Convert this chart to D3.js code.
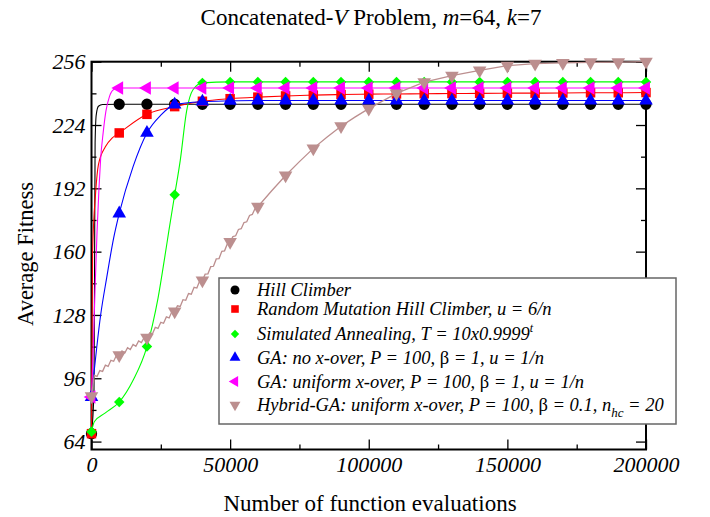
<!DOCTYPE html>
<html>
<head>
<meta charset="utf-8">
<script src="https://cdn.jsdelivr.net/npm/d3@7"></script>
<style>
body { margin: 0; background: #fff; }
text { font-family: "Liberation Serif", "Times New Roman", serif; }
</style>
</head>
<body>
<svg id="chart" width="710" height="517"></svg>
<script>
// evaluation counts where the markers sit
const evals = [0, 10000, 20000, 30000, 40000, 50000, 60000, 70000, 80000, 90000, 100000,
  110000, 120000, 130000, 140000, 150000, 160000, 170000, 180000, 190000, 200000];

// average fitness at those evaluations
const hcVals = [68, 234.5, 234.5, 234.5, 234.5, 234.5, 234.5, 234.5, 234.5, 234.5, 234.5,
  234.5, 234.5, 234.5, 234.5, 234.5, 234.5, 234.5, 234.5, 234.5, 234.5];
const rmhcVals = [68, 220, 229.4, 233.3, 236, 237.3, 238.1, 238.7, 239.1, 239.4, 239.6,
  239.7, 239.8, 239.9, 240, 240.1, 240.1, 240.2, 240.3, 240.3, 240.4];
const saVals = [69, 84, 112, 188.7, 245.3, 245.8, 245.8, 245.8, 245.8, 245.8, 245.8,
  245.8, 245.8, 245.8, 245.8, 245.8, 245.8, 245.8, 245.8, 245.8, 245.8];
const gaVals = [86.5, 179.3, 220, 234.3, 235.8, 236.2, 236.4, 236.4, 236.4, 236.4, 236.4,
  236.4, 236.4, 236.4, 236.4, 236.4, 236.4, 236.4, 236.4, 236.4, 236.4];
const gauVals = [86.5, 242.7, 242.7, 242.7, 242.7, 242.7, 242.7, 242.7, 242.7, 242.7, 242.7,
  242.7, 242.7, 242.7, 242.7, 242.7, 242.7, 242.7, 242.7, 242.7, 242.7];
const hybVals = [87, 107.7, 116.5, 129.8, 145.5, 164.9, 182.7, 198.5, 212.2, 223.4, 232.3,
  240, 245.7, 249, 251.6, 254, 255, 255.4, 255.7, 255.8, 256];

// extra points of the curves between markers
const hcExtra = [[900, 90], [1100, 150], [1300, 215], [1700, 229], [2500, 233.5], [4000, 234.4]];
const rmhcExtra = [[400, 160], [1500, 190], [2500, 204], [5000, 213], [7500, 217.5]];
const saExtra = [[1000, 74], [5000, 78.5], [15000, 95], [22000, 123], [24000, 136.5], [26400, 157],
  [27900, 170.5], [32000, 206], [34300, 231], [36600, 241.8]];
const gaExtra = [[3300, 128], [5500, 147], [8000, 167], [15000, 203], [25000, 229]];
const gauExtra = [[600, 110], [1260, 140], [2000, 170], [2700, 192], [3300, 207], [4200, 220],
  [5200, 231], [6500, 238.5], [7900, 241.8]];
// hybrid GA wobbles from generation to generation
const hybExtra = [[1000, 97.5], [2000, 96.9], [3000, 99.9], [4000, 99.5], [5000, 102.6], [6000, 102],
  [7000, 105.1], [8000, 104.6], [9000, 107.6], [11000, 109.8], [12000, 108.8], [13000, 111.4],
  [14000, 110.5], [15000, 113.1], [16000, 112.2], [17000, 114.9], [18000, 114], [19000, 116.6],
  [21000, 119], [22000, 118.5], [23000, 121.7], [24000, 121.2], [25000, 124.3], [26000, 123.8],
  [27000, 127], [28000, 126.5], [29000, 129.7], [31000, 132.6], [32000, 132.3], [33000, 135.7],
  [34000, 135.4], [35000, 138.8], [36000, 138.5], [37000, 142], [38000, 141.6], [39000, 145.1],
  [41000, 148.6], [42000, 148.8], [43000, 152.4], [44000, 152.6], [45000, 156.3], [46000, 156.5],
  [47000, 160.2], [48000, 160.4], [49000, 164], [51000, 167.6], [52000, 168], [53000, 171.2],
  [54000, 171.6], [55000, 174.7], [56000, 175.1], [57000, 178.3], [58000, 178.8], [59000, 181.8],
  [65000, 190.8], [75000, 205.5], [85000, 218], [95000, 228]];

const xTicks = [0, 50000, 100000, 150000, 200000];
const xMinor = [25000, 75000, 125000, 175000];
const yTicks = [64, 96, 128, 160, 192, 224, 256];
const yMinor = [80, 112, 144, 176, 208, 240];

const series = [
  { vals: hcVals, extra: hcExtra, color: "#000", shape: "circle" },
  { vals: rmhcVals, extra: rmhcExtra, color: "#ff0000", shape: "square" },
  { vals: saVals, extra: saExtra, color: "#00ff00", shape: "diamond" },
  { vals: gaVals, extra: gaExtra, color: "#0000ff", shape: "up" },
  { vals: gauVals, extra: gauExtra, color: "#ff00ff", shape: "left" },
  { vals: hybVals, extra: hybExtra, color: "#bc8f8f", shape: "down", zig: true }
];

const svg = d3.select("#chart");
const pLeft = 91.5, pRight = 646, pTop = 61.7, pBottom = 449.5;

const x = d3.scaleLinear().domain([0, 200000]).range([pLeft, pRight]);
const y = d3.scaleLinear().domain([60, 256]).range([pBottom, pTop]);

function symbolPath(shape, k) {
  if (shape === "circle") return d3.symbol(d3.symbolCircle, 100 * k * k)();
  if (shape === "square") return d3.symbol(d3.symbolSquare, 90 * k * k)();
  if (shape === "diamond") return d3.symbol(d3.symbolSquare, 55 * k * k)();
  return d3.symbol(d3.symbolTriangle, 80 * k * k)();
}
function symbolRot(shape) {
  return { diamond: 45, left: -90, down: 180 }[shape] || 0;
}

// ticks, inward on all four sides
const tickFont = g => g.selectAll("text")
  .style("font-family", '"Liberation Serif", serif')
  .style("font-style", "italic")
  .style("font-size", "22px")
  .attr("fill", "#000");
const cleanAxis = g => {
  g.select(".domain").remove();
  g.selectAll("line").attr("stroke", "#000").attr("stroke-width", 1.3);
};

svg.append("g").attr("transform", `translate(0,${pBottom})`)
  .call(d3.axisBottom(x).tickValues(xTicks).tickSize(-10).tickPadding(7).tickFormat(d3.format("d")))
  .call(cleanAxis).call(tickFont);
svg.append("g").attr("transform", `translate(0,${pBottom})`)
  .call(d3.axisBottom(x).tickValues(xMinor).tickSize(-5).tickFormat(""))
  .call(cleanAxis);
svg.append("g").attr("transform", `translate(0,${pTop})`)
  .call(d3.axisTop(x).tickValues(xTicks).tickSize(-10).tickFormat(""))
  .call(cleanAxis);
svg.append("g").attr("transform", `translate(0,${pTop})`)
  .call(d3.axisTop(x).tickValues(xMinor).tickSize(-5).tickFormat(""))
  .call(cleanAxis);

svg.append("g").attr("transform", `translate(${pLeft},0)`)
  .call(d3.axisLeft(y).tickValues(yTicks).tickSize(-10).tickPadding(6))
  .call(cleanAxis).call(tickFont);
svg.append("g").attr("transform", `translate(${pLeft},0)`)
  .call(d3.axisLeft(y).tickValues(yMinor).tickSize(-5).tickFormat(""))
  .call(cleanAxis);
svg.append("g").attr("transform", `translate(${pRight},0)`)
  .call(d3.axisRight(y).tickValues(yTicks).tickSize(-10).tickFormat(""))
  .call(cleanAxis);
svg.append("g").attr("transform", `translate(${pRight},0)`)
  .call(d3.axisRight(y).tickValues(yMinor).tickSize(-5).tickFormat(""))
  .call(cleanAxis);

svg.append("rect")
  .attr("x", pLeft).attr("y", pTop)
  .attr("width", pRight - pLeft).attr("height", pBottom - pTop)
  .attr("fill", "none").attr("stroke", "#000").attr("stroke-width", 2);

// curves and markers
const plot = svg.append("g");
series.forEach(s => {
  const marks = evals.map((e, i) => [e, s.vals[i]]);
  const pts = marks.concat(s.extra).sort((a, b) => a[0] - b[0]);
  const line = d3.line()
    .x(d => x(d[0])).y(d => y(d[1]))
    .curve(s.zig ? d3.curveLinear : d3.curveMonotoneX);
  plot.append("path")
    .attr("d", line(pts))
    .attr("fill", "none")
    .attr("stroke", s.color)
    .attr("stroke-width", s.zig ? 1.3 : 1.1);
  plot.append("g").selectAll("path").data(marks).join("path")
    .attr("d", symbolPath(s.shape, 1))
    .attr("transform", d => `translate(${x(d[0])},${y(d[1])}) rotate(${symbolRot(s.shape)})`)
    .attr("fill", s.color);
});

// titles
const title = svg.append("text")
  .attr("x", 371).attr("y", 25)
  .attr("text-anchor", "middle")
  .style("font-size", "23px");
title.append("tspan").text("Concatenated-");
title.append("tspan").style("font-style", "italic").text("V");
title.append("tspan").text(" Problem, ");
title.append("tspan").style("font-style", "italic").text("m");
title.append("tspan").text("=64, ");
title.append("tspan").style("font-style", "italic").text("k");
title.append("tspan").text("=7");

svg.append("text")
  .attr("x", 370).attr("y", 511)
  .attr("text-anchor", "middle")
  .style("font-size", "23px")
  .text("Number of function evaluations");

svg.append("text")
  .attr("transform", "translate(33,254) rotate(-90)")
  .attr("text-anchor", "middle")
  .style("font-size", "22.5px")
  .text("Average Fitness");

// legend
const legendRows = [
  [["Hill Climber"]],
  [["Random Mutation Hill Climber, u = 6/n"]],
  [["Simulated Annealing, T = 10x0.9999"], ["t", "sup"]],
  [["GA: no x-over, P = 100, "], ["β", "sym"], [" = 1, u = 1/n"]],
  [["GA: uniform x-over, P = 100, "], ["β", "sym"], [" = 1, u = 1/n"]],
  [["Hybrid-GA: uniform x-over, P = 100, "], ["β", "sym"], [" = 0.1, n"], ["hc", "sub"], [" = 20", "after"]]
];
const rowBase = [296, 315, 340, 363.5, 387.5, 411];

const lg = svg.append("g");
lg.append("rect")
  .attr("x", 219).attr("y", 278)
  .attr("width", 457).attr("height", 146)
  .attr("fill", "#fff").attr("stroke", "#666").attr("stroke-width", 1.5);

series.forEach((s, i) => {
  lg.append("path")
    .attr("d", symbolPath(s.shape, 0.8))
    .attr("transform", `translate(235,${rowBase[i] - 6}) rotate(${symbolRot(s.shape)})`)
    .attr("fill", s.color);
  const t = lg.append("text")
    .attr("x", 257).attr("y", rowBase[i])
    .style("font-size", "18.5px")
    .style("font-style", "italic");
  legendRows[i].forEach(([str, kind]) => {
    const sp = t.append("tspan").text(str);
    if (kind === "sup") sp.attr("dy", -8).style("font-size", "12px");
    if (kind === "sub") sp.attr("dy", 6).style("font-size", "13px");
    if (kind === "after") sp.attr("dy", -6);
    if (kind === "sym") sp.style("font-style", "normal");
  });
});
</script>
</body>
</html>
